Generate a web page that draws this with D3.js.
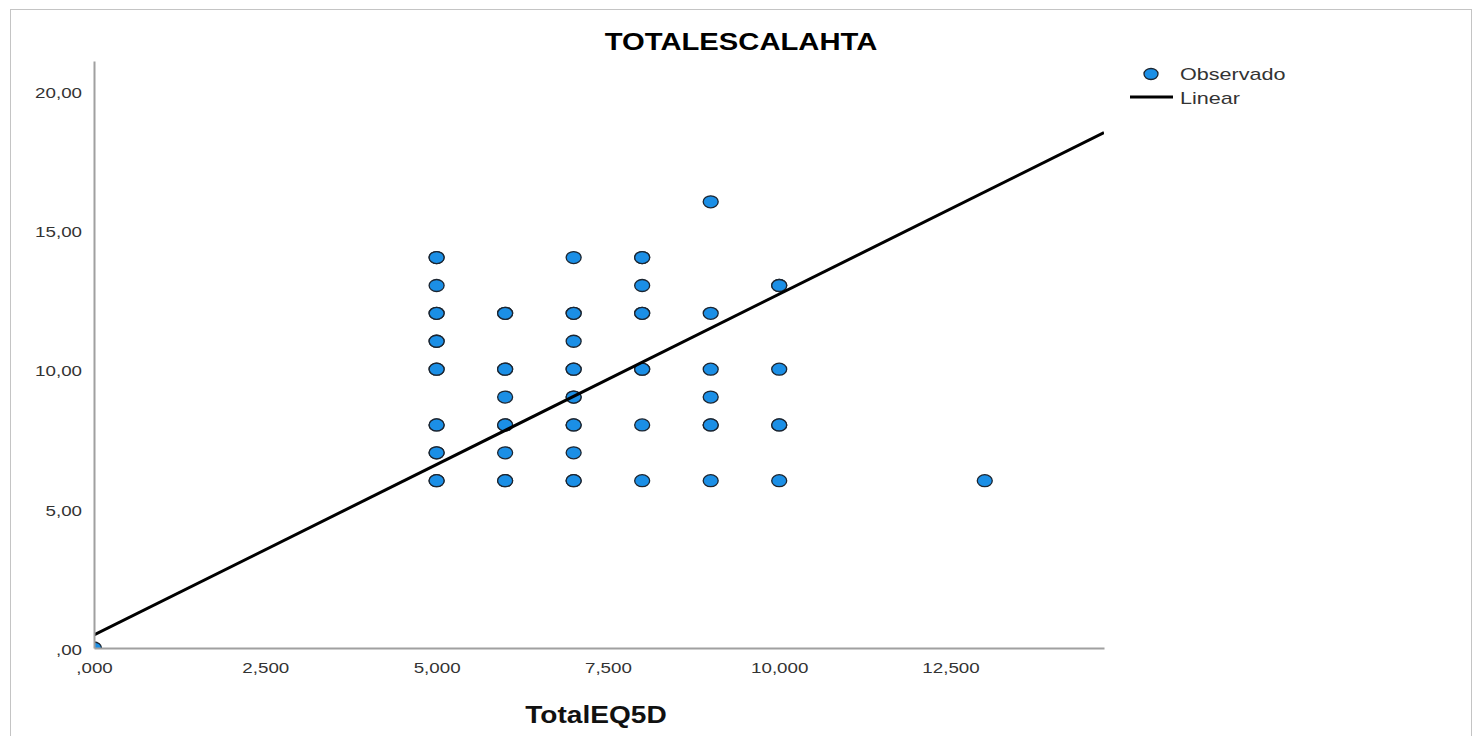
<!DOCTYPE html>
<html>
<head>
<meta charset="utf-8">
<script src="https://cdn.jsdelivr.net/npm/d3@7/dist/d3.min.js"></script>
<style>
    body { margin: 0; background: #fff; }
    svg { display: block; font-family: Arial, "Liberation Sans", sans-serif; }
</style>
</head>
<body>
<div id="chart"></div>
<script>
// observed values (TotalEQ5D, TOTALESCALAHTA, how many cases overlap)
var obsX =     [0, 5, 5, 5, 5, 5, 5, 5, 5, 6, 6, 6, 6, 6, 6, 7, 7, 7, 7, 7, 7, 7, 7, 8, 8, 8, 8, 8, 8, 9, 9, 9, 9, 9, 9, 10, 10, 10, 10, 13];
var obsY =     [0, 14, 13, 12, 11, 10, 8, 7, 6, 12, 10, 9, 8, 7, 6, 14, 12, 11, 10, 9, 8, 7, 6, 14, 13, 12, 10, 8, 6, 16, 12, 10, 9, 8, 6, 13, 10, 8, 6, 6];
var obsCount = [1, 2, 1, 2, 2, 2, 2, 2, 2, 2, 2, 1, 2, 1, 2, 1, 2, 1, 2, 2, 2, 1, 2, 2, 1, 2, 2, 1, 1, 1, 1, 1, 1, 2, 1, 2, 1, 2, 1, 1];

// fitted linear line
var lineIntercept = 0.47;
var lineSlope = 1.222;

var xTicks = [0, 2.5, 5, 7.5, 10, 12.5];
var yTicks = [0, 5, 10, 15, 20];

var width = 1473, height = 736;
var margin = { left: 94, right: 369, top: 61, bottom: 88 };

var svg = d3.select("#chart")
    .append("svg")
    .attr("width", width)
    .attr("height", height);

// the original picture is a bit wider than tall, so text is stretched
function stretch(sel, factor) {
    sel.each(function () {
        var w = this.getComputedTextLength();
        d3.select(this)
            .attr("textLength", w * factor)
            .attr("lengthAdjust", "spacingAndGlyphs");
    });
}

// outer frame
svg.append("rect")
    .attr("x", 10.5)
    .attr("y", 9.5)
    .attr("width", 1461)
    .attr("height", 740)
    .style("fill", "none")
    .style("stroke", "#c4c4c4");

var x = d3.scaleLinear()
    .domain([0, 14.74])
    .range([margin.left, width - margin.right]);

var y = d3.scaleLinear()
    .domain([0, 21.05])
    .range([height - margin.bottom, margin.top]);

var commaFmt = function (digits) {
    return function (d) {
        var s = d3.format("." + digits + "f")(d).replace(".", ",");
        return s.replace(/^0,/, ",");
    };
};

svg.append("defs")
    .append("clipPath")
    .attr("id", "plot-clip")
    .append("rect")
    .attr("x", x(0))
    .attr("y", y(21.05))
    .attr("width", x(14.74) - x(0))
    .attr("height", y(0) - y(21.05));

var plot = svg.append("g")
    .attr("clip-path", "url(#plot-clip)");

// points
var points = [];
obsX.forEach(function (d, i) {
    for (var k = 0; k < obsCount[i]; k++) {
        points.push({ x: d, y: obsY[i] });
    }
});

plot.selectAll(".dot")
    .data(points)
    .enter()
    .append("ellipse")
    .attr("class", "dot")
    .attr("cx", function (d) { return x(d.x); })
    .attr("cy", function (d) { return y(d.y); })
    .attr("rx", 7.5)
    .attr("ry", 6)
    .style("fill", "#1b8fe6")
    .style("stroke", "#1c2530")
    .style("stroke-width", 1.3);

// linear fit
plot.append("line")
    .attr("x1", x(0))
    .attr("y1", y(lineIntercept))
    .attr("x2", x(14.74))
    .attr("y2", y(lineIntercept + lineSlope * 14.74))
    .style("stroke", "#000")
    .style("stroke-width", 3);

// axes
var xAxis = d3.axisBottom(x)
    .tickValues(xTicks)
    .tickFormat(commaFmt(3))
    .tickSize(0)
    .tickPadding(14);

var yAxis = d3.axisLeft(y)
    .tickValues(yTicks)
    .tickFormat(commaFmt(2))
    .tickSize(0)
    .tickPadding(12);

var gx = svg.append("g")
    .attr("transform", "translate(0," + y(0) + ")")
    .call(xAxis);

var gy = svg.append("g")
    .attr("transform", "translate(" + x(0) + ",0)")
    .call(yAxis);

[gx, gy].forEach(function (g) {
    g.select(".domain")
        .style("stroke", "#a0a0a0")
        .style("stroke-width", 2);
    g.selectAll("text")
        .style("font-size", "15px")
        .style("font-family", "Arial, 'Liberation Sans', sans-serif")
        .style("fill", "#333")
        .call(stretch, 1.25);
});
gy.selectAll("text").attr("dy", "0.45em");

// titles
svg.append("text")
    .attr("x", 741)
    .attr("y", 50)
    .attr("text-anchor", "middle")
    .style("font-size", "23px")
    .style("font-weight", "bold")
    .text("TOTALESCALAHTA")
    .call(stretch, 1.27);

svg.append("text")
    .attr("x", 596)
    .attr("y", 723)
    .attr("text-anchor", "middle")
    .style("font-size", "23px")
    .style("font-weight", "bold")
    .style("fill", "#111")
    .text("TotalEQ5D")
    .call(stretch, 1.22);

// legend
var legend = svg.append("g");
legend.append("ellipse")
    .attr("cx", 1151)
    .attr("cy", 74)
    .attr("rx", 7)
    .attr("ry", 5.5)
    .style("fill", "#1b8fe6")
    .style("stroke", "#1c2530")
    .style("stroke-width", 1.3);
legend.append("text")
    .attr("x", 1180)
    .attr("y", 80)
    .style("font-size", "17px")
    .style("fill", "#333")
    .text("Observado")
    .call(stretch, 1.27);
legend.append("line")
    .attr("x1", 1130)
    .attr("x2", 1173)
    .attr("y1", 97)
    .attr("y2", 97)
    .style("stroke", "#000")
    .style("stroke-width", 3);
legend.append("text")
    .attr("x", 1180)
    .attr("y", 104)
    .style("font-size", "17px")
    .style("fill", "#333")
    .text("Linear")
    .call(stretch, 1.27);
</script>
</body>
</html>
